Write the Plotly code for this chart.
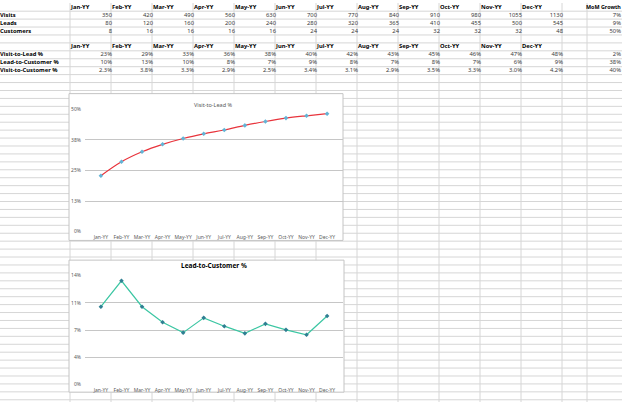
import plotly.graph_objects as go

# ---------------- data ----------------
months = ["Jan-YY", "Feb-YY", "Mar-YY", "Apr-YY", "May-YY", "Jun-YY",
          "Jul-YY", "Aug-YY", "Sep-YY", "Oct-YY", "Nov-YY", "Dec-YY"]
visits = [350, 420, 490, 560, 630, 700, 770, 840, 910, 980, 1055, 1130]
leads = [80, 120, 160, 200, 240, 280, 320, 365, 410, 455, 500, 545]
customers = [8, 16, 16, 16, 16, 24, 24, 24, 32, 32, 32, 48]
mom_counts = ["7%", "9%", "50%"]

visit_to_lead = [22.86, 28.57, 32.65, 35.71, 38.10, 40.00, 41.56, 43.45, 45.05, 46.43, 47.39, 48.23]
lead_to_customer = [10.00, 13.33, 10.00, 8.00, 6.67, 8.57, 7.50, 6.58, 7.80, 7.03, 6.40, 8.81]
visit_to_customer = [2.29, 3.81, 3.27, 2.86, 2.54, 3.43, 3.12, 2.86, 3.52, 3.27, 3.03, 4.24]
mom_rates = ["2%", "38%", "40%"]

count_labels = ["Visits", "Leads", "Customers"]
rate_labels = ["Visit-to-Lead %", "Lead-to-Customer %", "Visit-to-Customer %"]

v2l_ticks = [0, 12.5, 25, 37.5, 50]
v2l_ticktext = ["0%", "13%", "25%", "38%", "50%"]
l2c_ticks = [0, 3.5, 7, 10.5, 14]
l2c_ticktext = ["0%", "4%", "7%", "11%", "14%"]

# ---------------- sheet geometry ----------------
W, H = 622, 405
ROW_H = 8.05
ROW_OFF = 0.25
COL_A = 70
COL_W = 41
FONT = "Noto Sans"
GRID = "#d6d6d6"
TXT = "#3a3a3a"


def px(x):
    return x / W


def py(y):
    return 1 - y / H


def row_c(i):
    return ROW_OFF + i * ROW_H + 4.1


def pct0(v):
    return "%d%%" % int(v + 0.5)


shapes = []
# spreadsheet grid
k = 1
while k * ROW_H + ROW_OFF < H:
    y = k * ROW_H + ROW_OFF
    shapes.append(dict(type="line", xref="paper", yref="paper", x0=0, x1=1,
                       y0=py(y), y1=py(y), line=dict(color=GRID, width=1), layer="below"))
    k += 1
vcols = [COL_A + COL_W * i for i in range(13)] + [587]
for x in vcols:
    shapes.append(dict(type="line", xref="paper", yref="paper", x0=px(x), x1=px(x),
                       y0=0, y1=1, line=dict(color=GRID, width=1), layer="below"))

# chart boxes
for (x0, y0, x1, y1) in [(69, 92, 343, 241), (69, 261, 344, 395)]:
    shapes.append(dict(type="rect", xref="paper", yref="paper", x0=px(x0), x1=px(x1),
                       y0=py(y1), y1=py(y0), fillcolor="white",
                       line=dict(color="#c4c4c4", width=1), layer="below"))

fig = go.Figure()

# ---------------- table text (on a full-page hidden axis) ----------------
def text_trace(xs, ys, texts, pos, bold=False, color=TXT, size=5.8):
    fig.add_trace(go.Scatter(
        x=xs, y=ys, text=[("<b>%s</b>" % t) if bold else t for t in texts],
        mode="text", textposition=pos, xaxis="x3", yaxis="y3",
        textfont=dict(family=FONT, size=size, color="#000000" if bold else color),
        hoverinfo="skip", showlegend=False, cliponaxis=True))


col_left = [COL_A + COL_W * i + 1 for i in range(12)]
col_right = [COL_A + COL_W * (i + 1) + 1 for i in range(12)]

# headers
for r in (0, 5):
    text_trace(col_left, [row_c(r)] * 12, months, "middle right", bold=True)
text_trace([586], [row_c(0)], ["MoM Growth"], "middle right", bold=True, size=5.4)

# row labels
text_trace([0] * 3, [row_c(r) for r in (1, 2, 3)], count_labels, "middle right", bold=True)
text_trace([0] * 3, [row_c(r) for r in (6, 7, 8)], rate_labels, "middle right", bold=True)

# count values
for r, series in zip((1, 2, 3), (visits, leads, customers)):
    text_trace(col_right, [row_c(r)] * 12, [str(v) for v in series], "middle left")
text_trace([621] * 3, [row_c(r) for r in (1, 2, 3)], mom_counts, "middle left")

# rate values
text_trace(col_right, [row_c(6)] * 12, [pct0(v) for v in visit_to_lead], "middle left")
text_trace(col_right, [row_c(7)] * 12, [pct0(v) for v in lead_to_customer], "middle left")
text_trace(col_right, [row_c(8)] * 12, ["%.1f%%" % v for v in visit_to_customer], "middle left")
text_trace([621] * 3, [row_c(r) for r in (6, 7, 8)], mom_rates, "middle left")

# ---------------- charts ----------------
fig.add_trace(go.Scatter(
    x=months, y=visit_to_lead, mode="lines+markers", xaxis="x", yaxis="y",
    line=dict(color="#e8343c", width=1.2, shape="spline"),
    marker=dict(symbol="diamond", size=3.5, color="#62b4d6"),
    showlegend=False, hoverinfo="x+y"))

fig.add_trace(go.Scatter(
    x=months, y=lead_to_customer, mode="lines+markers", xaxis="x2", yaxis="y2",
    line=dict(color="#3cc6a3", width=1.2),
    marker=dict(symbol="diamond", size=3.5, color="#2f7f92"),
    showlegend=False, hoverinfo="x+y"))

tickfont = dict(family=FONT, size=5, color="#595959")
xdom = [px(85), px(343)]

axis_x = dict(type="category", showgrid=False, showline=False, zeroline=False,
              ticks="", tickfont=tickfont, ticklabelstandoff=1, fixedrange=True)
axis_y = dict(showgrid=True, gridcolor="#c6c6c6", gridwidth=1, zeroline=False,
              showline=False, ticks="", tickfont=tickfont, ticklabelstandoff=3,
              fixedrange=True)

fig.update_layout(
    width=W, height=H,
    margin=dict(l=0, r=0, t=0, b=0),
    paper_bgcolor="white", plot_bgcolor="rgba(0,0,0,0)",
    font=dict(family=FONT),
    shapes=shapes,
    xaxis=dict(axis_x, domain=xdom, anchor="y"),
    yaxis=dict(axis_y, domain=[py(232), py(108)], range=[0, 50], anchor="x",
               tickvals=v2l_ticks, ticktext=v2l_ticktext),
    xaxis2=dict(axis_x, domain=xdom, anchor="y2"),
    yaxis2=dict(axis_y, domain=[py(387.3), py(276.7)], range=[0, 14], anchor="x2",
                tickvals=l2c_ticks, ticktext=l2c_ticktext),
    xaxis3=dict(domain=[0, 1], range=[0, W], visible=False, anchor="y3", fixedrange=True),
    yaxis3=dict(domain=[0, 1], range=[H, 0], visible=False, anchor="x3", fixedrange=True),
    annotations=[
        dict(text="Visit-to-Lead %", xref="paper", yref="paper", x=px(213), y=py(97),
             showarrow=False, font=dict(family=FONT, size=5.5, color="#595959")),
        dict(text="<b>Lead-to-Customer %</b>", xref="paper", yref="paper", x=px(214),
             y=py(266), showarrow=False, font=dict(family=FONT, size=6.5, color="#000000")),
    ],
)

fig.write_html("out.html", config={"displayModeBar": False},
               post_script="document.body.style.margin='0';document.body.style.overflow='hidden';")
